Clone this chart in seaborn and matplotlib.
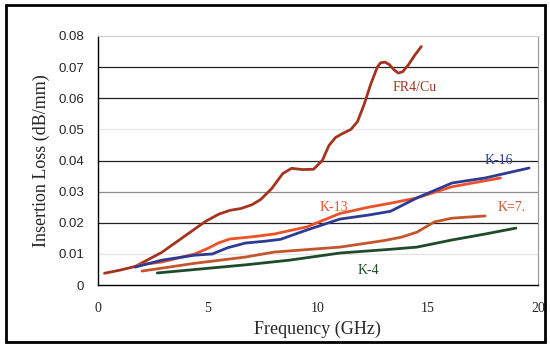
import numpy as np
import pandas as pd
import matplotlib
matplotlib.use("Agg")
import matplotlib.pyplot as plt
from matplotlib.patches import Rectangle
import seaborn as sns

# values
fr4_f = [0.3, 1.0, 1.7, 2.9, 4.0, 4.9, 5.5, 6.0, 6.5, 7.0, 7.4, 7.9, 8.4, 8.8, 9.3, 9.8, 10.2, 10.5, 10.8, 11.1, 11.5, 11.8,
         12.1, 12.4, 12.7, 12.85, 13.05, 13.25, 13.45, 13.65, 13.85, 14.1, 14.4, 14.7]
fr4_v = [0.0038, 0.0048, 0.006, 0.0105, 0.016, 0.0205, 0.0228, 0.0240, 0.0246, 0.0258, 0.0275, 0.031, 0.0358, 0.0375,
         0.0371, 0.0372, 0.040, 0.0448, 0.0474, 0.0486, 0.050, 0.0525, 0.058, 0.0645, 0.0700, 0.0714, 0.0716, 0.0708,
         0.0692, 0.0681, 0.0685, 0.0706, 0.0738, 0.0766]

k13_f = [1.8, 2.9, 4.4, 5.0, 5.5, 6.0, 7.0, 8.0, 9.5, 11.0, 12.3, 13.3, 14.5, 16.1, 18.3]
k13_v = [0.0064, 0.0074, 0.010, 0.0118, 0.0136, 0.0148, 0.0155, 0.0164, 0.0187, 0.023, 0.025, 0.0263, 0.028, 0.0316, 0.0344]

k16_f = [1.7, 2.9, 4.4, 5.2, 5.9, 6.7, 7.6, 8.3, 9.5, 11.0, 12.3, 13.3, 14.5, 16.1, 17.6, 19.6]
k16_v = [0.0058, 0.008, 0.0096, 0.010, 0.012, 0.0135, 0.0141, 0.0147, 0.0177, 0.0212, 0.0225, 0.0237, 0.028, 0.0328,
         0.0344, 0.0376]

k7_f = [2.0, 4.4, 6.7, 8.0, 11.0, 13.0, 13.8, 14.5, 15.3, 16.1, 17.6]
k7_v = [0.0045, 0.007, 0.009, 0.0106, 0.0122, 0.0143, 0.0154, 0.017, 0.0203, 0.0215, 0.0222]

k4_f = [2.7, 4.4, 6.7, 8.7, 11.0, 13.3, 14.5, 16.1, 17.6, 19.0]
k4_v = [0.0039, 0.005, 0.0065, 0.008, 0.0103, 0.0115, 0.0122, 0.0145, 0.0164, 0.0183]

series_names = ["FR4/Cu", "K-13", "K-16", "K=7.", "K-4"]
series_colors = ["#A5341F", "#EE5128", "#2E3B95", "#C4562E", "#1F4A2C"]

x_ticks = [0, 5, 10, 15, 20]
y_ticks = [0, 0.01, 0.02, 0.03, 0.04, 0.05, 0.06, 0.07, 0.08]
y_tick_labels = ["0", "0.01", "0.02", "0.03", "0.04", "0.05", "0.06", "0.07", "0.08"]
grid_colors = ["#e4e4e4", "#222222", "#8c8c8c", "#222222", "#e8e8e8", "#222222", "#222222"]

frames = []
for name, f, v in zip(series_names,
                      [fr4_f, k13_f, k16_f, k7_f, k4_f],
                      [fr4_v, k13_v, k16_v, k7_v, k4_v]):
    frames.append(pd.DataFrame({"freq": f, "loss": v, "series": name}))
df = pd.concat(frames, ignore_index=True)

sns.set_style("white")
plt.rcParams["font.family"] = ["Liberation Serif", "DejaVu Serif"]

fig = plt.figure(figsize=(5.5, 3.46), dpi=100)
ax = fig.add_axes([0.178, 0.176, 0.8, 0.72])

# grid first so curves sit on top
for yv, gc in zip(y_ticks[1:-1], grid_colors):
    ax.axhline(yv, color=gc, lw=0.9, zorder=1)

for name, col in zip(series_names, series_colors):
    sub = df[df["series"] == name]
    sns.lineplot(data=sub, x="freq", y="loss", color=col, lw=2.0,
                 estimator=None, sort=False, ax=ax, zorder=3)
for ln in ax.get_lines():
    ln.set_solid_joinstyle("round")
    ln.set_solid_capstyle("round")

ax.set_xlim(0, 20)
ax.set_ylim(0, 0.08)
ax.set_xticks(x_ticks)
ax.set_xticklabels([str(t) for t in x_ticks], fontsize=10)
ax.set_yticks(y_ticks)
ax.set_yticklabels(y_tick_labels, fontsize=9.5, family="Liberation Sans")
ax.tick_params(axis="both", direction="out", length=4, width=0.8, color="black", pad=6)
ax.tick_params(axis="x", pad=8)

ax.set_xlabel("Frequency (GHz)", fontsize=13, labelpad=4)
ax.set_ylabel("Insertion Loss (dB/mm)", fontsize=13, labelpad=6)

for side in ["left", "bottom"]:
    ax.spines[side].set_color("black")
    ax.spines[side].set_linewidth(1.0)
ax.spines["right"].set_color("#999999")
ax.spines["top"].set_color("#cccccc")
for side in ["right", "top"]:
    ax.spines[side].set_visible(True)

# curve labels
ax.text(14.4, 0.0633, "FR4/Cu", color=series_colors[0], fontsize=10, ha="center", va="center")
ax.text(10.7, 0.0248, "K-13", color=series_colors[1], fontsize=10, ha="center", va="center")
ax.text(18.2, 0.0400, "K-16", color=series_colors[2], fontsize=10, ha="center", va="center")
ax.text(18.8, 0.0248, "K=7.", color=series_colors[3], fontsize=10, ha="center", va="center")
ax.text(12.3, 0.0048, "K-4", color=series_colors[4], fontsize=10, ha="center", va="center")

# outer frame of the chart
fig.patches.append(Rectangle((0.01, 0.012), 0.98, 0.973, transform=fig.transFigure,
                             fill=False, edgecolor="black", lw=2.0))

fig.savefig("out.png", dpi=100)
